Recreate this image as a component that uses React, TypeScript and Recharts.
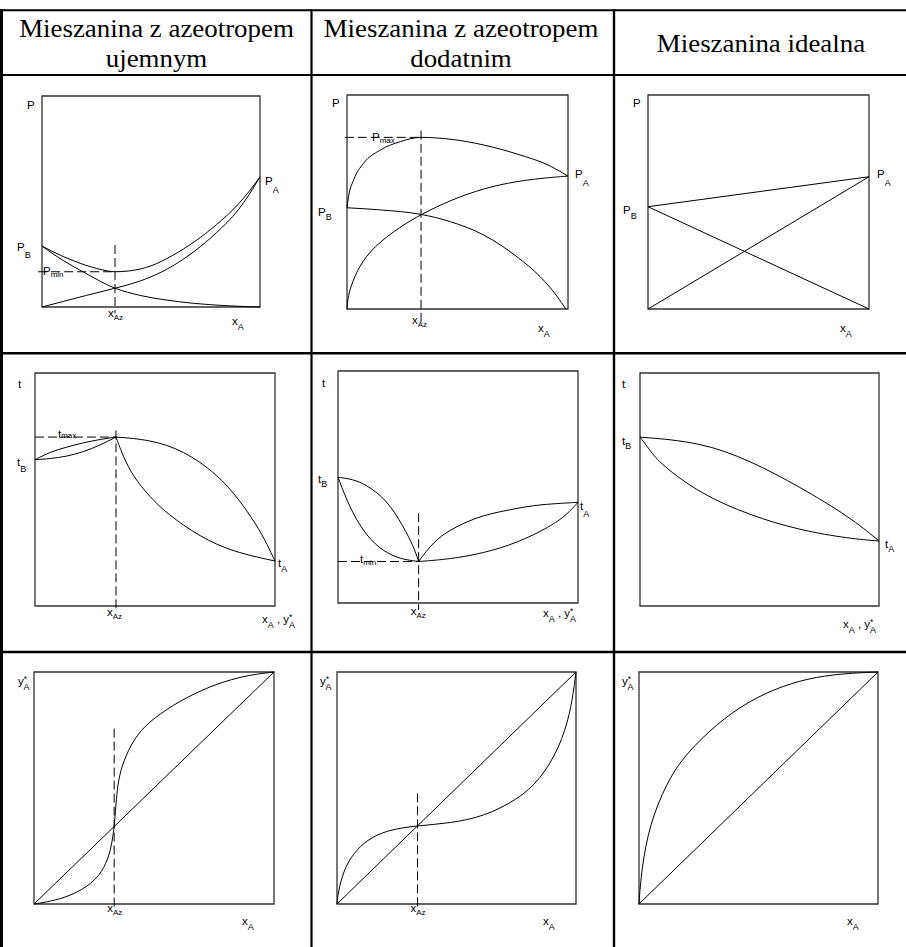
import React from 'react';
import {
  ComposedChart,
  Line,
  XAxis,
  YAxis,
  ReferenceArea,
  ReferenceLine,
  ReferenceDot,
} from 'recharts';

type Pt = { x: number; y: number };
const pts = (arr: number[][]): Pt[] => arr.map(([x, y]) => ({ x, y }));

// ---------- header texts ----------
const headerCol1 = ['Mieszanina z azeotropem', 'ujemnym'];
const headerCol2 = ['Mieszanina z azeotropem', 'dodatnim'];
const headerCol3 = ['Mieszanina idealna'];

// ---------- azeotrope compositions / extremes ----------
const azNegP = 0.335;
const pMin = 0.167;
const azPosP = 0.335;
const pMax = 0.802;
const azNegT = 0.3375;
const tMax = 0.725;
const azPosT = 0.336;
const tMin = 0.179;
const azNegY = 0.334;
const azPosY = 0.337;

// pure component values
const negPB = 0.289, negPA = 0.617;
const posPB = 0.473, posPA = 0.621;
const idPB = 0.478, idPA = 0.618;
const negTB = 0.628, negTA = 0.193;
const posTB = 0.542, posTA = 0.434;
const idTB = 0.725, idTA = 0.279;

// ---------- row 1: P - x ----------
const negPressureTotal = pts([[0, 0.289], [0.05, 0.262], [0.1, 0.238], [0.15, 0.217], [0.2, 0.198], [0.25, 0.183], [0.3, 0.171], [0.335, 0.167], [0.4, 0.171], [0.5, 0.195], [0.6, 0.245], [0.7, 0.31], [0.8, 0.39], [0.9, 0.487], [0.95, 0.548], [1, 0.617]]);
const negPressureA = pts([[0, 0], [0.1, 0.027], [0.2, 0.054], [0.335, 0.089], [0.4, 0.107], [0.5, 0.143], [0.6, 0.195], [0.7, 0.265], [0.8, 0.352], [0.9, 0.46], [0.95, 0.533], [1, 0.617]]);
const negPressureB = pts([[0, 0.289], [0.05, 0.252], [0.1, 0.219], [0.2, 0.16], [0.335, 0.089], [0.45, 0.055], [0.55, 0.036], [0.7, 0.017], [0.85, 0.006], [1, 0]]);

const posPressureTotal = pts([[0, 0.473], [0.007, 0.525], [0.03, 0.603], [0.075, 0.681], [0.151, 0.743], [0.241, 0.782], [0.335, 0.802], [0.47, 0.793], [0.62, 0.766], [0.77, 0.724], [0.92, 0.668], [1, 0.621]]);
const posPressureA = pts([[0, 0], [0.004, 0.05], [0.015, 0.1], [0.053, 0.198], [0.12, 0.291], [0.241, 0.385], [0.335, 0.442], [0.468, 0.509], [0.618, 0.564], [0.769, 0.598], [0.92, 0.615], [1, 0.621]]);
const posPressureB = pts([[0, 0.473], [0.151, 0.463], [0.335, 0.442], [0.468, 0.408], [0.618, 0.346], [0.769, 0.244], [0.875, 0.15], [0.95, 0.06], [0.99, 0]]);

const idealPressureTotal = pts([[0, 0.478], [1, 0.618]]);
const idealPressureA = pts([[0, 0], [1, 0.618]]);
const idealPressureB = pts([[0, 0.478], [1, 0]]);

// ---------- row 2: t - x,y ----------
const negTempDewLeft = pts([[0, 0.628], [0.0625, 0.661], [0.132, 0.682], [0.201, 0.701], [0.271, 0.715], [0.3375, 0.725]]);
const negTempBubbleLeft = pts([[0, 0.628], [0.0625, 0.632], [0.132, 0.642], [0.201, 0.661], [0.271, 0.69], [0.3375, 0.725]]);
const negTempDewRight = pts([[0.3375, 0.725], [0.479, 0.714], [0.618, 0.668], [0.757, 0.568], [0.854, 0.454], [0.9375, 0.325], [0.979, 0.239], [1, 0.193]]);
const negTempBubbleRight = pts([[0.3375, 0.725], [0.368, 0.64], [0.41, 0.554], [0.479, 0.468], [0.549, 0.397], [0.688, 0.296], [0.826, 0.232], [1, 0.193]]);

const posTempDewLeft = pts([[0, 0.542], [0.06, 0.534], [0.12, 0.509], [0.204, 0.444], [0.273, 0.329], [0.315, 0.243], [0.336, 0.179]]);
const posTempBubbleLeft = pts([[0, 0.542], [0.052, 0.401], [0.12, 0.286], [0.19, 0.222], [0.26, 0.189], [0.336, 0.179]]);
const posTempDewRight = pts([[0.336, 0.179], [0.398, 0.265], [0.467, 0.315], [0.537, 0.351], [0.606, 0.377], [0.676, 0.394], [0.745, 0.408], [0.814, 0.42], [0.884, 0.427], [1, 0.434]]);
const posTempBubbleRight = pts([[0.336, 0.179], [0.467, 0.189], [0.606, 0.215], [0.745, 0.258], [0.884, 0.329], [0.953, 0.38], [1, 0.434]]);

const idealTempDew = pts([[0, 0.725], [0.251, 0.704], [0.46, 0.625], [0.669, 0.511], [0.878, 0.382], [1, 0.279]]);
const idealTempBubble = pts([[0, 0.725], [0.042, 0.668], [0.084, 0.611], [0.251, 0.482], [0.46, 0.389], [0.669, 0.325], [0.878, 0.289], [1, 0.279]]);

// ---------- row 3: y* - x ----------
const diagonal = pts([[0, 0], [1, 1]]);
const negEquilibriumLow = pts([[0, 0], [0.09, 0.015], [0.177, 0.046], [0.26, 0.103], [0.302, 0.175], [0.323, 0.247], [0.334, 0.336]]);
const negEquilibriumHigh = pts([[0.334, 0.336], [0.341, 0.419], [0.346, 0.491], [0.36, 0.577], [0.392, 0.663], [0.441, 0.749], [0.524, 0.821], [0.636, 0.892], [0.761, 0.95], [0.886, 0.986], [1, 1]]);
const posEquilibrium = pts([[0, 0], [0.004, 0.047], [0.028, 0.147], [0.069, 0.219], [0.125, 0.276], [0.209, 0.319], [0.337, 0.338], [0.473, 0.348], [0.613, 0.377], [0.752, 0.448], [0.85, 0.534], [0.933, 0.678], [0.975, 0.821], [0.992, 0.935], [1, 1]]);
const idealEquilibrium = pts([[0, 0], [0.01, 0.147], [0.045, 0.347], [0.115, 0.519], [0.184, 0.634], [0.324, 0.777], [0.463, 0.877], [0.603, 0.942], [0.742, 0.98], [0.881, 0.995], [1, 1]]);

// ---------- labels ----------
type Seg = { t: string; shift?: number; size?: number; dx?: number };
type LabelSpec = { ax: number; ay: number; dx: number; dy: number; segs: Seg[] };

const lab = (main: string, sub?: string, shift = 5, size = 9): Seg[] =>
  sub ? [{ t: main }, { t: sub, shift, size }] : [{ t: main }];
const yStar: Seg[] = [{ t: 'y' }, { t: '*', shift: -3, size: 8.5 }, { t: 'A', shift: 5, size: 9, dx: -3.5 }];
const xyStar: Seg[] = [{ t: 'x' }, { t: 'A', shift: 5, size: 9 }, { t: ' , ' }, { t: 'y' }, { t: '*', shift: -3, size: 8.5 }, { t: 'A', shift: 5, size: 9, dx: -3.5 }];

type Guide = { from: Pt; to: Pt };
type CurveKind = 'monotone' | 'linear' | 'basis';
type Panel = {
  cell: [number, number, number, number];
  box: [number, number, number, number];
  curves: { data: Pt[]; kind: CurveKind }[];
  guides: Guide[];
  labels: LabelSpec[];
};

const panels: Panel[] = [
  {
    cell: [3, 76, 310, 352],
    box: [42, 96, 260, 307],
    curves: [
      { data: negPressureTotal, kind: 'monotone' },
      { data: negPressureA, kind: 'monotone' },
      { data: negPressureB, kind: 'monotone' },
    ],
    guides: [
      { from: { x: -0.018, y: pMin }, to: { x: azNegP, y: pMin } },
      { from: { x: azNegP, y: 0.294 }, to: { x: azNegP, y: -0.03 } },
    ],
    labels: [
      { ax: 0, ay: 1, dx: -15, dy: 13, segs: lab('P') },
      { ax: 1, ay: negPA, dx: 5, dy: 8, segs: lab('P', 'A', 8) },
      { ax: 0, ay: negPB, dx: -25, dy: 5, segs: lab('P', 'B', 7) },
      { ax: 0, ay: pMin, dx: 1, dy: 3.5, segs: lab('P', 'min', 2, 8) },
      { ax: azNegP, ay: 0, dx: -7, dy: 9.5, segs: lab('x', 'Az', 3, 8) },
      { ax: 1, ay: 0, dx: -28, dy: 18, segs: lab('x', 'A', 5) },
    ],
  },
  {
    cell: [313, 76, 613, 352],
    box: [347, 95, 568, 309],
    curves: [
      { data: posPressureTotal, kind: 'monotone' },
      { data: posPressureA, kind: 'basis' },
      { data: posPressureB, kind: 'monotone' },
    ],
    guides: [
      { from: { x: -0.01, y: pMax }, to: { x: azPosP, y: pMax } },
      { from: { x: azPosP, y: 0.833 }, to: { x: azPosP, y: -0.075 } },
    ],
    labels: [
      { ax: 0, ay: 1, dx: -15, dy: 12, segs: lab('P') },
      { ax: 0, ay: pMax, dx: 25, dy: 3.5, segs: lab('P', 'max', 2.5, 8) },
      { ax: 1, ay: posPA, dx: 7, dy: 1.5, segs: lab('P', 'A', 8) },
      { ax: 0, ay: posPB, dx: -29, dy: 8, segs: lab('P', 'B', 4.5) },
      { ax: azPosP, ay: 0, dx: -9, dy: 14.5, segs: lab('x', 'Az', 3, 8) },
      { ax: 1, ay: 0, dx: -30, dy: 23, segs: lab('x', 'A', 5) },
    ],
  },
  {
    cell: [615, 76, 906, 352],
    box: [648, 95, 869, 309],
    curves: [
      { data: idealPressureTotal, kind: 'linear' },
      { data: idealPressureA, kind: 'linear' },
      { data: idealPressureB, kind: 'linear' },
    ],
    guides: [],
    labels: [
      { ax: 0, ay: 1, dx: -15, dy: 12, segs: lab('P') },
      { ax: 1, ay: idPA, dx: 8, dy: 1.5, segs: lab('P', 'A', 8) },
      { ax: 0, ay: idPB, dx: -25, dy: 7, segs: lab('P', 'B', 5) },
      { ax: 1, ay: 0, dx: -29, dy: 23, segs: lab('x', 'A', 5) },
    ],
  },
  {
    cell: [3, 354, 310, 651],
    box: [35, 373, 275, 606],
    curves: [
      { data: negTempDewLeft, kind: 'basis' },
      { data: negTempBubbleLeft, kind: 'basis' },
      { data: negTempDewRight, kind: 'basis' },
      { data: negTempBubbleRight, kind: 'basis' },
    ],
    guides: [
      { from: { x: 0, y: tMax }, to: { x: azNegT, y: tMax } },
      { from: { x: azNegT, y: 0.754 }, to: { x: azNegT, y: -0.02 } },
    ],
    labels: [
      { ax: 0, ay: 1, dx: -17, dy: 15, segs: lab('t') },
      { ax: 0, ay: negTB, dx: -18, dy: 6, segs: lab('t', 'B', 6) },
      { ax: 1, ay: negTA, dx: 3, dy: 6, segs: lab('t', 'A', 5) },
      { ax: 0, ay: tMax, dx: 23, dy: 0.5, segs: lab('t', 'max', 0.5, 8) },
      { ax: azNegT, ay: 0, dx: -9, dy: 9.5, segs: lab('x', 'Az', 3, 8) },
      { ax: 1, ay: 0, dx: -13, dy: 17, segs: xyStar },
    ],
  },
  {
    cell: [313, 354, 613, 651],
    box: [338, 371, 578, 603],
    curves: [
      { data: posTempDewLeft, kind: 'basis' },
      { data: posTempBubbleLeft, kind: 'basis' },
      { data: posTempDewRight, kind: 'basis' },
      { data: posTempBubbleRight, kind: 'basis' },
    ],
    guides: [
      { from: { x: 0, y: tMin }, to: { x: azPosT, y: tMin } },
      { from: { x: azPosT, y: 0.387 }, to: { x: azPosT, y: -0.03 } },
    ],
    labels: [
      { ax: 0, ay: 1, dx: -16, dy: 16, segs: lab('t') },
      { ax: 0, ay: posTB, dx: -20, dy: 6, segs: lab('t', 'B', 4) },
      { ax: 1, ay: posTA, dx: 2, dy: 8, segs: lab('t', 'A', 7) },
      { ax: 0, ay: tMin, dx: 22, dy: 2, segs: lab('t', 'min', 1.5, 8) },
      { ax: azPosT, ay: 0, dx: -8, dy: 12, segs: lab('x', 'Az', 3, 8) },
      { ax: 1, ay: 0, dx: -35, dy: 13.5, segs: xyStar },
    ],
  },
  {
    cell: [615, 354, 906, 651],
    box: [640, 373, 879, 606],
    curves: [
      { data: idealTempDew, kind: 'basis' },
      { data: idealTempBubble, kind: 'basis' },
    ],
    guides: [],
    labels: [
      { ax: 0, ay: 1, dx: -18, dy: 15, segs: lab('t') },
      { ax: 0, ay: idTB, dx: -18, dy: 8, segs: lab('t', 'B', 4) },
      { ax: 1, ay: idTA, dx: 6, dy: 7, segs: lab('t', 'A', 4) },
      { ax: 1, ay: 0, dx: -36, dy: 22, segs: xyStar },
    ],
  },
  {
    cell: [3, 653, 310, 947],
    box: [34, 672, 274, 904],
    curves: [
      { data: diagonal, kind: 'linear' },
      { data: negEquilibriumLow, kind: 'basis' },
      { data: negEquilibriumHigh, kind: 'basis' },
    ],
    guides: [{ from: { x: azNegY, y: 0.756 }, to: { x: azNegY, y: -0.026 } }],
    labels: [
      { ax: 0, ay: 1, dx: -16, dy: 13, segs: yStar },
      { ax: azNegY, ay: 0, dx: -7, dy: 8, segs: lab('x', 'Az', 3, 8) },
      { ax: 1, ay: 0, dx: -32, dy: 21, segs: lab('x', 'A', 5) },
    ],
  },
  {
    cell: [313, 653, 613, 947],
    box: [337, 672, 576, 904],
    curves: [
      { data: diagonal, kind: 'linear' },
      { data: posEquilibrium, kind: 'basis' },
    ],
    guides: [{ from: { x: azPosY, y: 0.477 }, to: { x: azPosY, y: -0.026 } }],
    labels: [
      { ax: 0, ay: 1, dx: -17, dy: 13, segs: yStar },
      { ax: azPosY, ay: 0, dx: -7, dy: 8, segs: lab('x', 'Az', 3, 8) },
      { ax: 1, ay: 0, dx: -33, dy: 21, segs: lab('x', 'A', 5) },
    ],
  },
  {
    cell: [615, 653, 906, 947],
    box: [639, 672, 878, 904],
    curves: [
      { data: diagonal, kind: 'linear' },
      { data: idealEquilibrium, kind: 'basis' },
    ],
    guides: [],
    labels: [
      { ax: 0, ay: 1, dx: -17, dy: 13, segs: yStar },
      { ax: 1, ay: 0, dx: -31, dy: 21, segs: lab('x', 'A', 5) },
    ],
  },
];

const LABEL_FONT = "'Liberation Sans', Arial, Helvetica, sans-serif";
const SERIF_FONT = "'Liberation Serif', 'Times New Roman', serif";

function RichText({ x, y, segs }: { x: number; y: number; segs: Seg[] }) {
  let cur = 0;
  return (
    <text x={x} y={y} fontFamily={LABEL_FONT} fontSize={11.5} fill="#000">
      {segs.map((s, i) => {
        const target = s.shift ?? 0;
        const dy = target - cur;
        cur = target;
        return (
          <tspan key={i} dy={dy} dx={s.dx ?? 0} fontSize={s.size ?? 11.5} style={{ whiteSpace: 'pre' }}>
            {s.t}
          </tspan>
        );
      })}
    </text>
  );
}

function PanelChart({ p }: { p: Panel }) {
  const [cx0, cy0, cx1, cy1] = p.cell;
  const [bx0, by0, bx1, by1] = p.box;
  const margin = { left: bx0 - cx0, top: by0 - cy0, right: cx1 - bx1, bottom: cy1 - by1 };
  return (
    <div style={{ position: 'absolute', left: cx0, top: cy0 }}>
      <ComposedChart width={cx1 - cx0} height={cy1 - cy0} margin={margin}>
        <XAxis type="number" dataKey="x" domain={[0, 1]} hide />
        <YAxis type="number" dataKey="y" domain={[0, 1]} hide />
        <ReferenceArea x1={0} x2={1} y1={0} y2={1} fill="none" fillOpacity={0} stroke="#333" strokeWidth={1.3} ifOverflow="visible" />
        {p.curves.map((c, i) => (
          <Line
            key={i}
            data={c.data}
            dataKey="y"
            type={c.kind}
            dot={false}
            activeDot={false}
            stroke="#000"
            strokeWidth={1}
            isAnimationActive={false}
          />
        ))}
        {p.guides.map((g, i) => (
          <ReferenceLine
            key={'g' + i}
            segment={[g.from, g.to]}
            stroke="#000"
            strokeWidth={1}
            strokeDasharray="9 4"
            ifOverflow="visible"
          />
        ))}
        {p.labels.map((l, i) => (
          <ReferenceDot
            key={'l' + i}
            x={l.ax}
            y={l.ay}
            r={1}
            ifOverflow="visible"
            shape={(props: any) => <RichText x={props.cx + l.dx} y={props.cy + l.dy} segs={l.segs} />}
          />
        ))}
      </ComposedChart>
    </div>
  );
}

function HeaderText({ cx, y, text }: { cx: number; y: number; text: string }) {
  return (
    <text
      transform={`translate(${cx},${y}) scale(1.035,1)`}
      textAnchor="middle"
      fontFamily={SERIF_FONT}
      fontSize={26}
      fill="#000"
    >
      {text}
    </text>
  );
}

export default function App() {
  return (
    <div style={{ position: 'absolute', left: 0, top: 0, width: 906, height: 947, background: '#fff', overflow: 'hidden' }}>
      {panels.map((p, i) => (
        <PanelChart key={i} p={p} />
      ))}
      <svg width={906} height={947} style={{ position: 'absolute', left: 0, top: 0, pointerEvents: 'none' }}>
        <g stroke="#000" fill="none">
          <line x1={0} y1={10.3} x2={906} y2={10.3} strokeWidth={2} />
          <line x1={0} y1={75} x2={906} y2={75} strokeWidth={2} />
          <line x1={0} y1={353.3} x2={906} y2={353.3} strokeWidth={2.6} />
          <line x1={0} y1={652} x2={906} y2={652} strokeWidth={2.6} />
          <line x1={1.5} y1={9.3} x2={1.5} y2={947} strokeWidth={3} />
          <line x1={311.5} y1={9.3} x2={311.5} y2={947} strokeWidth={2.2} />
          <line x1={614} y1={9.3} x2={614} y2={947} strokeWidth={2.4} />
        </g>
        <HeaderText cx={156.5} y={36.7} text={headerCol1[0]} />
        <HeaderText cx={156.5} y={67} text={headerCol1[1]} />
        <HeaderText cx={461} y={36.7} text={headerCol2[0]} />
        <HeaderText cx={461} y={67} text={headerCol2[1]} />
        <HeaderText cx={761} y={52} text={headerCol3[0]} />
      </svg>
    </div>
  );
}
